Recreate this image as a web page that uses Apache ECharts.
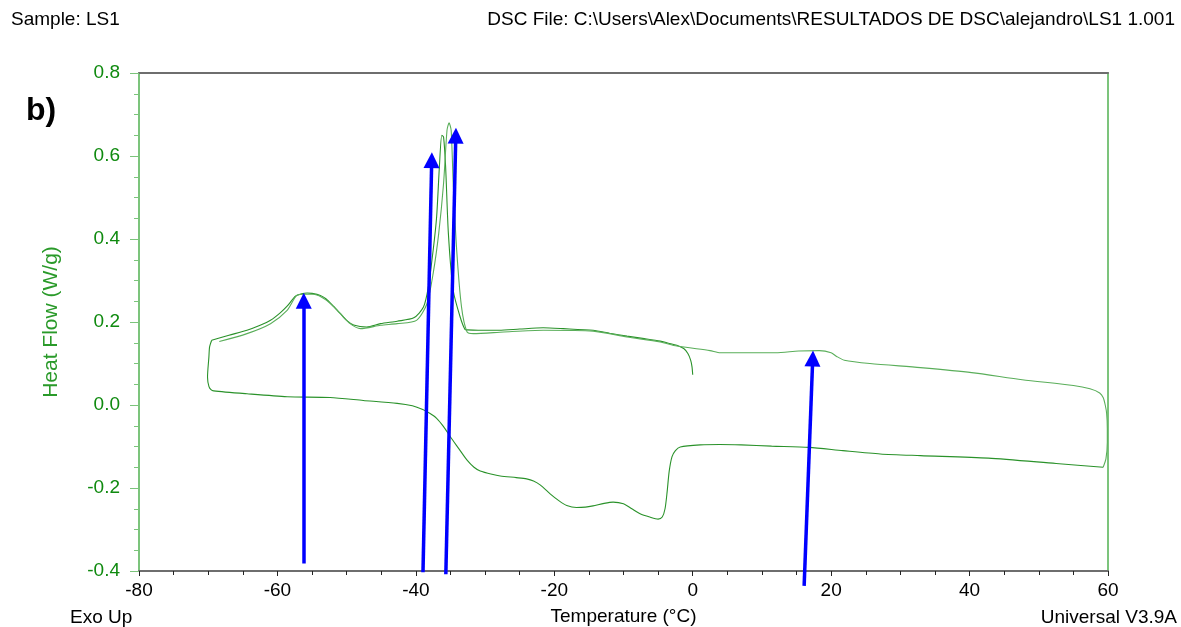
<!DOCTYPE html>
<html>
<head>
<meta charset="utf-8">
<script src="https://cdn.jsdelivr.net/npm/echarts@6/dist/echarts.min.js"></script>
<style>
html,body{margin:0;padding:0;background:#fff;}
#chart{width:1181px;height:627px;}
</style>
</head>
<body>
<div id="chart"></div>
<script>
// ---- Data ----
// First cooling run: starts at 0 °C and cools to -70 °C
var cool1T  = [0.0,-0.1,-0.3,-0.7,-1.3,-2.3,-3.5,-4.7,-7.0,-9.5,-12.0,-14.4,-18.7,-21.6,-25.0,-28.0,-31.0,-32.6,-32.9,-33.6,-34.6,-35.3,-35.7,-36.0,-36.25,-36.6,-37.0,-37.5,-38.2,-38.9,-40.3,-42.7,-45.1,-47.1,-49.0,-50.0,-51.0,-51.9,-53.0,-53.8,-55.0,-55.7,-56.5,-57.4,-58.6,-59.6,-61.0,-62.5,-64.4,-67.0,-69.5];
var cool1HF = [0.073,0.092,0.108,0.124,0.136,0.144,0.149,0.154,0.160,0.166,0.173,0.180,0.184,0.186,0.183,0.180,0.180,0.181,0.182,0.212,0.276,0.413,0.574,0.646,0.650,0.574,0.453,0.373,0.284,0.236,0.210,0.202,0.196,0.188,0.193,0.204,0.222,0.238,0.256,0.264,0.269,0.270,0.268,0.262,0.238,0.222,0.204,0.192,0.180,0.168,0.156];
// Heating run: -70 °C up to 60 °C
var heatT  = [-69.5,-69.8,-69.9,-70.1,-69.9,-69.6,-69.2,-64.4,-58.6,-52.4,-47.6,-42.7,-40.5,-39.0,-38.0,-37.0,-36.0,-35.0,-33.8,-32.6,-31.6,-30.7,-29.0,-27.8,-25.5,-24.0,-23.0,-22.0,-20.6,-19.3,-18.2,-16.8,-15.5,-14.4,-12.8,-11.5,-10.0,-8.8,-7.6,-6.2,-5.0,-4.4,-4.0,-3.7,-3.4,-3.0,-2.5,-1.8,1.1,3.9,7.0,11.4,16.8,21.7,27.1,32.9,42.7,52.5,59.3];
var heatHF = [0.156,0.140,0.116,0.067,0.045,0.037,0.034,0.027,0.020,0.018,0.011,0.004,-0.002,-0.011,-0.020,-0.032,-0.052,-0.077,-0.105,-0.133,-0.150,-0.159,-0.167,-0.171,-0.175,-0.178,-0.183,-0.193,-0.214,-0.231,-0.242,-0.247,-0.246,-0.243,-0.237,-0.234,-0.238,-0.250,-0.262,-0.270,-0.275,-0.270,-0.250,-0.210,-0.160,-0.125,-0.110,-0.101,-0.096,-0.095,-0.096,-0.099,-0.102,-0.110,-0.118,-0.122,-0.128,-0.141,-0.150];
// Second cooling run: 60 °C back down to -68 °C
var cool2T  = [59.3,59.7,59.9,59.9,59.8,59.6,59.3,58.8,57.4,55.0,47.6,40.3,32.9,25.6,21.9,20.8,20.0,18.3,15.3,12.0,4.0,2.5,-2.3,-4.7,-9.5,-14.4,-21.6,-27.3,-31.7,-32.6,-33.4,-34.1,-34.6,-34.9,-35.2,-35.5,-36.0,-36.7,-37.5,-38.4,-39.9,-42.7,-45.1,-48.0,-49.5,-50.9,-52.9,-54.8,-56.0,-57.2,-58.6,-61.0,-64.4,-68.4];
var cool2HF = [-0.150,-0.130,-0.090,-0.057,-0.020,0.000,0.018,0.029,0.039,0.047,0.061,0.078,0.090,0.100,0.108,0.117,0.126,0.131,0.130,0.126,0.126,0.131,0.142,0.152,0.164,0.178,0.180,0.176,0.172,0.176,0.236,0.373,0.533,0.662,0.680,0.662,0.533,0.413,0.317,0.244,0.204,0.196,0.192,0.184,0.196,0.220,0.252,0.267,0.267,0.264,0.228,0.196,0.172,0.153];
// Blue annotation arrows: tail point and arrow-head centre, in axis units
var arrowFromT  = [-56.2,-38.97,-35.67,16.1];
var arrowFromHF = [-0.382,-0.403,-0.408,-0.436];
var arrowToT    = [-56.2,-37.71,-34.23,17.34];
var arrowToHF   = [0.251,0.590,0.649,0.112];
// Axis ticks
var xTicks = {min:-80, max:60, interval:20};
var yTicks = {min:-0.4, max:0.8, interval:0.2};

function pairs(xs, ys){ return xs.map(function(x,i){ return [x, ys[i]]; }); }

var FONT = "'Liberation Sans', Arial, sans-serif";
var GREEN_LINE = '#2a922a';
var GREEN_TXT = '#0f8a0f';

var chart = echarts.init(document.getElementById('chart'), null, {renderer:'canvas'});
var lineStyleCommon = {color: GREEN_LINE, width: 1.1};
var option = {
  animation: false,
  backgroundColor: '#ffffff',
  grid: {left:139, right:73, top:73, bottom:56, containLabel:false, outerBoundsMode:'none'},
  xAxis: [{
    type:'value', min:xTicks.min, max:xTicks.max, interval:xTicks.interval,
    position:'bottom',
    name:'Temperature (°C)', nameLocation:'middle', nameGap:36,
    nameTextStyle:{color:'#000', fontSize:19, fontFamily:FONT},
    axisLine:{show:true, onZero:false, lineStyle:{color:'#6e6e6e', width:2}},
    axisTick:{show:true, inside:false, length:5, lineStyle:{color:'#222', width:1}},
    minorTick:{show:true, splitNumber:4, length:4, lineStyle:{color:'#222', width:1}},
    axisLabel:{color:'#000', fontSize:19, fontFamily:FONT, margin:10},
    splitLine:{show:false}
  },{
    type:'value', min:xTicks.min, max:xTicks.max, position:'top',
    axisLine:{show:true, onZero:false, lineStyle:{color:'#6e6e6e', width:2}},
    axisTick:{show:false}, axisLabel:{show:false}, splitLine:{show:false}
  }],
  yAxis: [{
    type:'value', min:yTicks.min, max:yTicks.max, interval:yTicks.interval,
    position:'left',
    name:'Heat Flow (W/g)', nameLocation:'middle', nameGap:77,
    nameTextStyle:{color:'#2a9a2a', fontSize:21, fontFamily:FONT},
    axisLine:{show:true, onZero:false, lineStyle:{color:'#7cc47c', width:2}},
    axisTick:{show:true, inside:false, length:9, lineStyle:{color:'#7cc47c', width:1}},
    minorTick:{show:true, splitNumber:4, length:5, lineStyle:{color:'#7cc47c', width:1}},
    axisLabel:{color:GREEN_TXT, fontSize:19, fontFamily:FONT, margin:19,
      formatter:function(v){ return v.toFixed(1); }},
    splitLine:{show:false}
  },{
    type:'value', min:yTicks.min, max:yTicks.max, position:'right',
    axisLine:{show:true, onZero:false, lineStyle:{color:'#7cc47c', width:2}},
    axisTick:{show:false}, axisLabel:{show:false}, splitLine:{show:false}
  }],
  series: [
    {name:'Cooling 1', type:'line', data:pairs(cool1T, cool1HF), showSymbol:false, smooth:0.25,
     lineStyle:lineStyleCommon, z:3},
    {name:'Heating', type:'line', data:pairs(heatT, heatHF), showSymbol:false, smooth:0.25,
     lineStyle:lineStyleCommon, z:3},
    {name:'Cooling 2', type:'line', data:pairs(cool2T, cool2HF), showSymbol:false, smooth:0.25,
     lineStyle:{color:'#5aae5a', width:1.1}, z:3},
    {name:'Arrows', type:'lines', coordinateSystem:'cartesian2d', clip:false, z:5,
     symbol:['none','triangle'], symbolSize:16,
     lineStyle:{color:'#0000ff', width:3.5, opacity:1, curveness:0},
     data: arrowFromT.map(function(t,i){
       return {coords:[[t, arrowFromHF[i]],[arrowToT[i], arrowToHF[i]]]};
     })}
  ],
  graphic: [
    {type:'text', left:11, top:10, style:{text:'Sample: LS1', fill:'#000', font:'19px '+FONT}},
    {type:'text', right:6, top:10, style:{text:'DSC File: C:\\Users\\Alex\\Documents\\RESULTADOS DE DSC\\alejandro\\LS1 1.001', fill:'#000', font:'19px '+FONT}},
    {type:'text', left:26, top:95, style:{text:'b)', fill:'#000', font:'bold 32px '+FONT}},
    {type:'text', left:70, top:608, style:{text:'Exo Up', fill:'#000', font:'19px '+FONT}},
    {type:'text', right:4, top:608, style:{text:'Universal V3.9A', fill:'#000', font:'19px '+FONT}}
  ]
};
chart.setOption(option);
</script>
</body>
</html>
